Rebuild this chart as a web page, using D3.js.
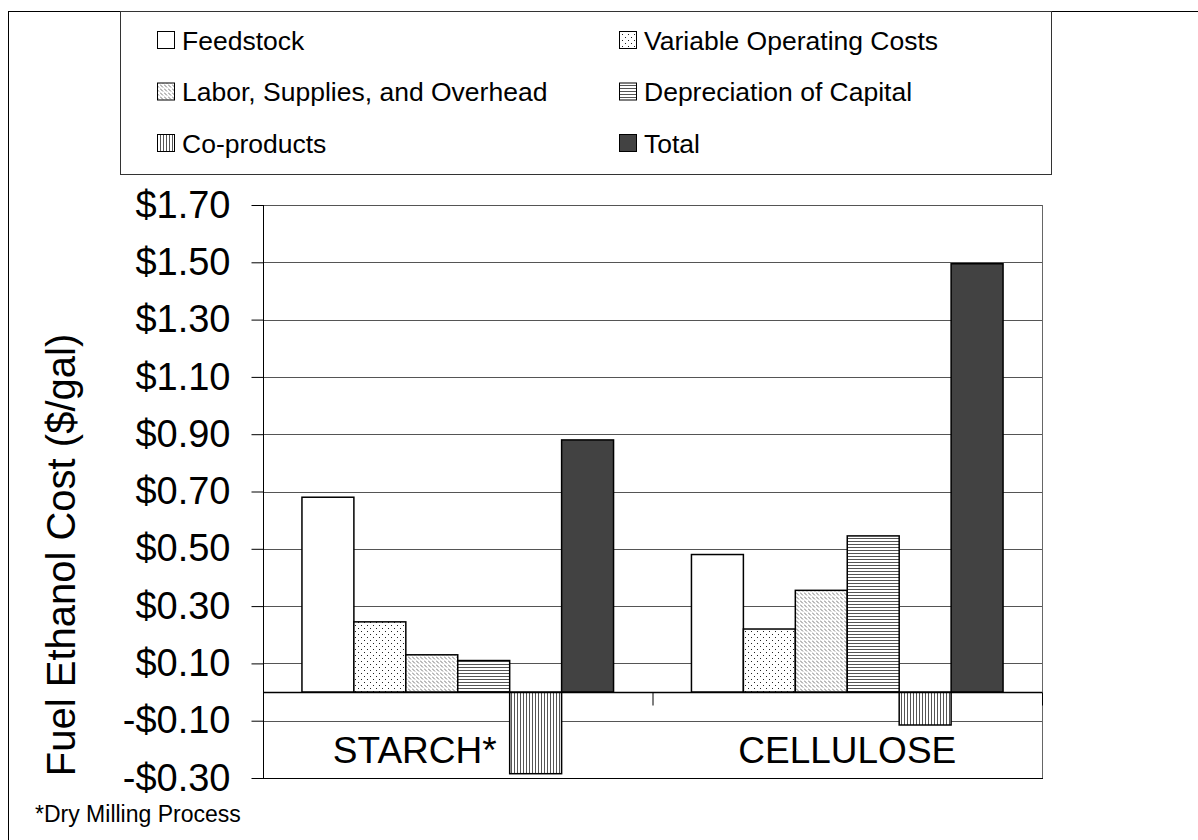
<!DOCTYPE html>
<html><head><meta charset="utf-8">
<script src="https://cdn.jsdelivr.net/npm/d3@7"></script>
<style>html,body{margin:0;padding:0;background:#fff;} svg{display:block;}</style>
</head><body>
<svg id="chart" width="1198" height="840"></svg>
<script>
const categories = ["STARCH*", "CELLULOSE"];
const seriesNames = ["Feedstock", "Variable Operating Costs", "Labor, Supplies, and Overhead", "Depreciation of Capital", "Co-products", "Total"];
const starchValues = [0.68, 0.245, 0.13, 0.11, -0.285, 0.88];
const celluloseValues = [0.48, 0.22, 0.355, 0.545, -0.115, 1.495];
const yTicks = [-0.3, -0.1, 0.1, 0.3, 0.5, 0.7, 0.9, 1.1, 1.3, 1.5, 1.7];
const yTitle = "Fuel Ethanol Cost ($/gal)";
const footnote = "*Dry Milling Process";

(function () {
const valuesByCat = {"STARCH*": starchValues, "CELLULOSE": celluloseValues};
const font = "'Liberation Sans', Arial, Helvetica, sans-serif";
const svg = d3.select("#chart");

// patterns
const defs = svg.append("defs");
const pDots = defs.append("pattern").attr("id","pDots").attr("patternUnits","userSpaceOnUse").attr("width",6).attr("height",6);
pDots.append("rect").attr("width",6).attr("height",6).attr("fill","#fff");
pDots.append("rect").attr("x",1).attr("y",1).attr("width",1).attr("height",1).attr("fill","#222");
pDots.append("rect").attr("x",4).attr("y",4).attr("width",1).attr("height",1).attr("fill","#222");
const pDiag = defs.append("pattern").attr("id","pDiag").attr("patternUnits","userSpaceOnUse").attr("width",4).attr("height",4);
pDiag.append("rect").attr("width",4).attr("height",4).attr("fill","#fff");
pDiag.append("path").attr("d","M0,0.5 L3,3.5").attr("stroke","#777").attr("stroke-width",1);
const pHor = defs.append("pattern").attr("id","pHor").attr("patternUnits","userSpaceOnUse").attr("width",4).attr("height",3);
pHor.append("rect").attr("width",4).attr("height",3).attr("fill","#fff");
pHor.append("rect").attr("y",1).attr("width",4).attr("height",1).attr("fill","#555");
const pVer = defs.append("pattern").attr("id","pVer").attr("patternUnits","userSpaceOnUse").attr("width",3).attr("height",4);
pVer.append("rect").attr("width",3).attr("height",4).attr("fill","#fff");
pVer.append("rect").attr("x",1).attr("width",1).attr("height",4).attr("fill","#555");
const fills = ["#ffffff", "url(#pDots)", "url(#pDiag)", "url(#pHor)", "url(#pVer)", "#424242"];

// outer border
svg.append("rect").attr("x",8.5).attr("y",11.5).attr("width",1300).attr("height",1000)
  .attr("fill","none").attr("stroke","#000").attr("stroke-width",1);

// legend
const lg = svg.append("g");
lg.append("rect").attr("x",120.5).attr("y",11.5).attr("width",931).attr("height",163)
  .attr("fill","#fff").attr("stroke","#333").attr("stroke-width",1);
const legCols = [157, 619];
const legRows = [40, 91.5, 143];
seriesNames.forEach((s, i) => {
  const cx = legCols[i % 2], cy = legRows[Math.floor(i / 2)];
  lg.append("rect").attr("x", cx + 0.5).attr("y", cy - 8.5).attr("width", 17).attr("height", 17)
    .attr("fill", fills[i]).attr("stroke", "#000").attr("stroke-width", 1);
  lg.append("text").attr("x", cx + 25).attr("y", cy + 9.5).attr("font-family", font)
    .attr("font-size", 26.5).attr("fill", "#000").text(s);
});

// plot
const pL = 263, pR = 1042, pT = 205, pB = 778;
const y = d3.scaleLinear().domain([-0.3, 1.7]).range([pB, pT]);
const x0 = d3.scaleBand().domain(categories).range([pL, pR]).padding(0);
const x1 = d3.scaleBand().domain(seriesNames).range([0, x0.bandwidth()]).paddingInner(0).paddingOuter(0.75);

const g = svg.append("g");
g.selectAll("line.grid").data(yTicks).join("line")
  .attr("x1", pL).attr("x2", pR)
  .attr("y1", d => Math.round(y(d)) + 0.5).attr("y2", d => Math.round(y(d)) + 0.5)
  .attr("stroke", "#555").attr("stroke-width", 1);
g.append("line").attr("x1", pR + 0.5).attr("x2", pR + 0.5).attr("y1", pT).attr("y2", pB)
  .attr("stroke", "#666").attr("stroke-width", 1);

// bars
categories.forEach(cat => {
  const vals = valuesByCat[cat];
  g.selectAll(null).data(vals.map((v, i) => ({v, s: seriesNames[i], i}))).join("rect")
    .attr("x", d => x0(cat) + x1(d.s))
    .attr("width", x1.bandwidth())
    .attr("y", d => y(Math.max(0, d.v)))
    .attr("height", d => Math.abs(y(d.v) - y(0)))
    .attr("fill", d => fills[d.i])
    .attr("stroke", "#000").attr("stroke-width", 1.5);
});

// y axis
const yAxis = d3.axisLeft(y).tickValues(yTicks).tickSize(12).tickPadding(21)
  .tickFormat(d => (d < 0 ? "-$" : "$") + Math.abs(d).toFixed(2));
const ya = svg.append("g").attr("transform", `translate(${pL + 0.5},0)`).call(yAxis);
ya.select(".domain").attr("stroke", "#000").attr("d", `M0,${pT}V${pB}`);
ya.selectAll(".tick line").attr("stroke", "#000");
ya.selectAll(".tick text").attr("font-family", font).attr("font-size", 38).attr("fill", "#000");

// category axis at zero
const za = svg.append("g").attr("transform", `translate(0,${Math.round(y(0)) + 0.5})`);
za.append("line").attr("x1", pL).attr("x2", pR).attr("stroke", "#000").attr("stroke-width", 1.5);
za.selectAll("line.ct").data(categories).join("line")
  .attr("x1", d => x0(d) + x0.bandwidth() + 0.5).attr("x2", d => x0(d) + x0.bandwidth() + 0.5)
  .attr("y1", 0).attr("y2", 13).attr("stroke", "#000");
const catDx = [-43, 0];
svg.selectAll("text.cat").data(categories).join("text")
  .attr("x", (d, i) => x0(d) + x0.bandwidth() / 2 + catDx[i])
  .attr("y", 763).attr("text-anchor", "middle")
  .attr("font-family", font).attr("font-size", 37).attr("fill", "#000").text(d => d);

svg.append("line").attr("x1", pL).attr("x2", pR + 1).attr("y1", pB + 0.5).attr("y2", pB + 0.5)
  .attr("stroke", "#000").attr("stroke-width", 1);

// y title
svg.append("text").attr("transform", "translate(75,555) rotate(-90)").attr("text-anchor", "middle")
  .attr("font-family", font).attr("font-size", 40).attr("fill", "#000").text(yTitle);

// footnote
svg.append("text").attr("x", 35).attr("y", 822).attr("font-family", font).attr("font-size", 23)
  .attr("fill", "#000").text(footnote);
})();
</script>
</body></html>
